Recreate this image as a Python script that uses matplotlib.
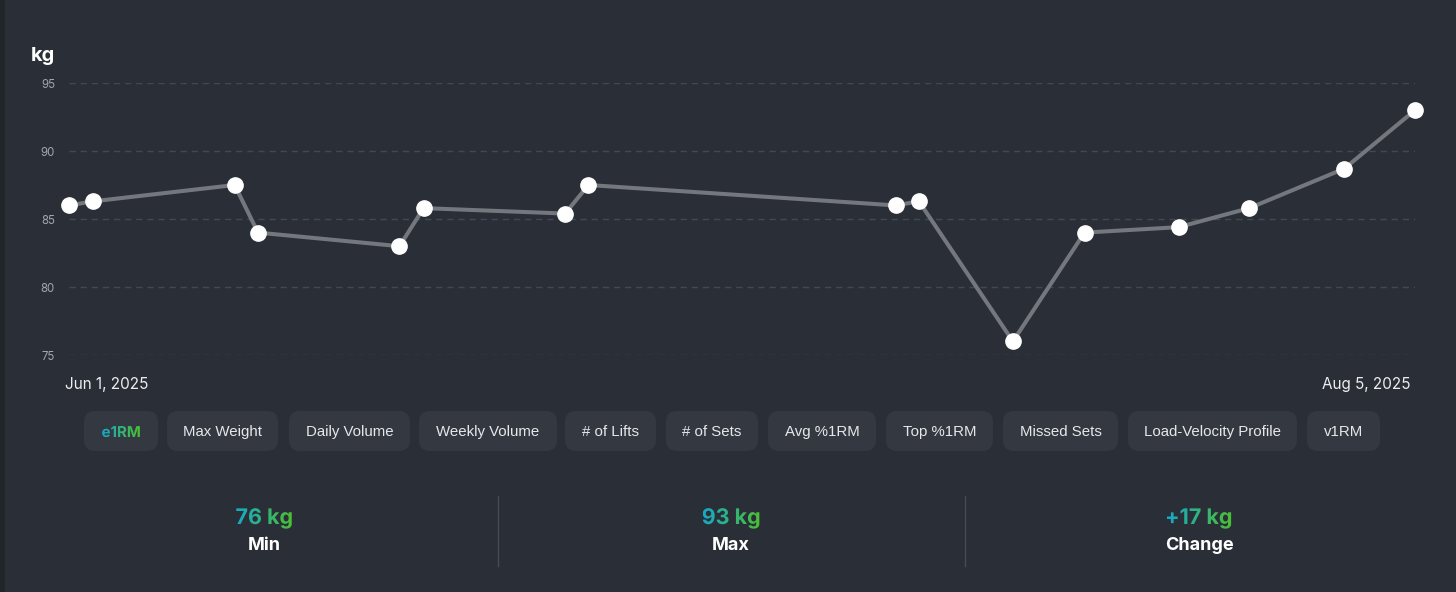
import numpy as np
import pandas as pd
import matplotlib
matplotlib.use("Agg")
import matplotlib.pyplot as plt
from matplotlib.patches import FancyBboxPatch, PathPatch, Rectangle
from matplotlib.textpath import TextPath
from matplotlib.font_manager import FontProperties
from matplotlib.transforms import Affine2D, ScaledTranslation
from matplotlib.colors import LinearSegmentedColormap

# data
dates = pd.to_datetime([
    "2025-06-01 00:00", "2025-06-02 04:00", "2025-06-09 00:00", "2025-06-10 03:00",
    "2025-06-16 23:00", "2025-06-18 03:00", "2025-06-24 23:00", "2025-06-26 02:00",
    "2025-07-10 22:00", "2025-07-12 01:00", "2025-07-16 14:00", "2025-07-20 01:00",
    "2025-07-24 14:00", "2025-07-28 00:00", "2025-08-01 14:00", "2025-08-05 00:00",
])
e1rm = [86.0, 86.3, 87.5, 84.0, 83.0, 85.8, 85.4, 87.5,
        86.0, 86.3, 76.0, 84.0, 84.4, 85.8, 88.7, 93.0]
yticks = [75, 80, 85, 90, 95]
tabs = ["e1RM", "Max Weight", "Daily Volume", "Weekly Volume", "# of Lifts",
        "# of Sets", "Avg %1RM", "Top %1RM", "Missed Sets",
        "Load-Velocity Profile", "v1RM"]
stat_names = ["Min", "Max", "Change"]

# layout (pixels)
W, H = 1456, 592
tab_edges = [(84, 158), (167, 278), (289, 410), (419, 557), (565, 656), (666, 758),
             (768, 876), (886, 993), (1003, 1118), (1128, 1297), (1307, 1380)]
stat_x = [264, 731, 1199]
divider_x = [498, 965]

BG = "#2a2f37"
TAB_BG = "#343941"
TEAL = "#17a8c8"
GREEN = "#4cbf34"

fig = plt.figure(figsize=(W / 100, H / 100), dpi=100, facecolor=BG)

# overlay axes in pixel coordinates
ov = fig.add_axes([0, 0, 1, 1], zorder=0)
ov.set_facecolor(BG)
ov.axis("off")
ov.add_patch(Rectangle((0, 0), 5, H, color="#20252c", lw=0))


def grad_text(ax, x, y, s, size, ha="center"):
    fp = FontProperties(family="Inter", weight="bold")
    tp = TextPath((0, 0), s, size=size, prop=fp)
    bb = tp.get_extents()
    dx = x - (bb.x0 + bb.x1) / 2 if ha == "center" else x - bb.x0
    path = Affine2D().scale(1, -1).translate(dx, y).transform_path(tp)
    patch = PathPatch(path, fc="none", ec="none", transform=ax.transData)
    ax.add_patch(patch)
    ext = path.get_extents()
    cmap = LinearSegmentedColormap.from_list("g", [TEAL, GREEN])
    im = ax.imshow(np.linspace(0, 1, 256).reshape(1, -1), cmap=cmap,
                   extent=(ext.x0, ext.x1, ext.y1, ext.y0), aspect="auto",
                   interpolation="bilinear", zorder=3)
    im.set_clip_path(patch)


# tab buttons
for i, (lab, (x0, x1)) in enumerate(zip(tabs, tab_edges)):
    ov.add_patch(FancyBboxPatch((x0, 411), x1 - x0, 40,
                                boxstyle="round,pad=0,rounding_size=11",
                                fc=TAB_BG, ec="none"))
    if i == 0:
        grad_text(ov, (x0 + x1) / 2, 437, lab, 15)
    else:
        ov.text((x0 + x1) / 2, 432, lab, ha="center", va="center",
                color="#e6e7e9", fontsize=10.8, family="Liberation Sans")

# stats
vmin, vmax = min(e1rm), max(e1rm)
stat_vals = [f"{vmin:.0f} kg", f"{vmax:.0f} kg", f"+{vmax - vmin:.0f} kg"]
for x, v, n in zip(stat_x, stat_vals, stat_names):
    grad_text(ov, x, 524, v, 21.5)
    ov.text(x, 545, n, ha="center", va="center", color="white",
            fontsize=13, fontweight="bold", family="Inter")
for x in divider_x:
    ov.plot([x, x], [496, 566], color="#454b54", lw=1)

ov.set_xlim(0, W)
ov.set_ylim(H, 0)

# main chart
ax = fig.add_axes([69 / W, (H - 355) / H, (1415 - 69) / W, (355 - 83) / H], zorder=1)
ax.set_facecolor("none")
ax.plot(dates, e1rm, color="#74787e", lw=2.9, marker="o", markersize=11,
        markerfacecolor="white", markeredgecolor="white", clip_on=False, zorder=3)
ax.set_xlim(dates[0], dates[-1])
ax.set_ylim(75, 95)
ax.set_yticks(yticks)
ax.set_yticklabels([str(t) for t in yticks], color="#a1a6ad", fontsize=8.3, family="Inter")
ax.grid(axis="y", color="#434952", lw=1, linestyle=(0, (4.5, 3.5)))
ax.set_axisbelow(True)
ax.set_xticks([dates[0], dates[-1]])
ax.set_xticklabels([d.strftime("%b %-d, %Y") for d in (dates[0], dates[-1])],
                   color="#eceded", fontsize=11, family="Inter")
ax.tick_params(axis="both", length=0)
ax.tick_params(axis="y", pad=10)
ax.tick_params(axis="x", pad=16)
shift = ScaledTranslation(-4 / 100, 0, fig.dpi_scale_trans)
for lab, ha in zip(ax.get_xticklabels(), ["left", "right"]):
    lab.set_ha(ha)
    lab.set_transform(lab.get_transform() + shift)
for sp in ax.spines.values():
    sp.set_visible(False)

fig.text(31 / W, 1 - 56 / H, "kg", color="white", fontsize=14.4, fontweight="bold",
         family="Inter", ha="left", va="center")

fig.savefig("out.png", dpi=100, facecolor=BG)
